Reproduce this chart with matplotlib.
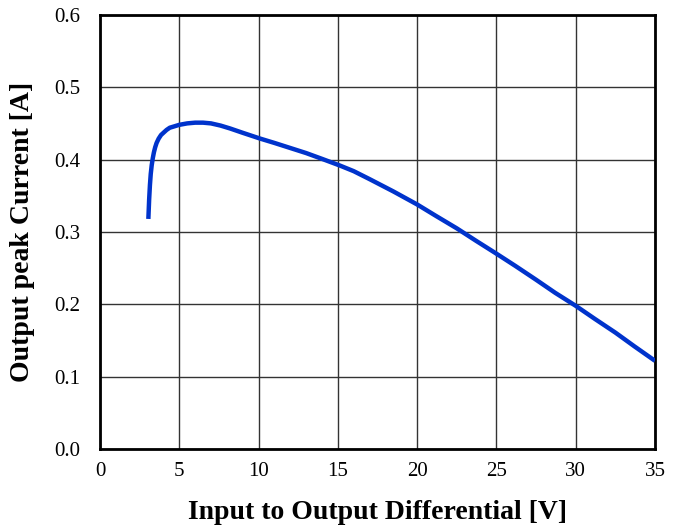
import matplotlib
matplotlib.use('Agg')
import matplotlib.pyplot as plt
import numpy as np

# ── data ──
vdiff = [3.05, 3.1, 3.15, 3.2, 3.26, 3.33, 3.4, 3.48, 3.57, 3.7, 3.85, 4.0,
         4.2, 4.4, 4.7, 5.0, 5.5, 6.0, 6.5, 7.0, 7.6, 8.2, 9.0, 10.1,
         11.0, 12.0, 13.0, 14.0, 15.1, 16.0, 17.0, 18.5, 20.0, 21.2,
         22.5, 23.7, 25.0, 26.2, 27.5, 28.7, 30.0, 31.2, 32.5, 33.7, 35.0]
ipeak = [0.318, 0.345, 0.365, 0.380, 0.392, 0.402, 0.410, 0.417, 0.423, 0.429,
         0.434, 0.437, 0.441, 0.444, 0.446, 0.448, 0.450, 0.451, 0.451, 0.450,
         0.447, 0.443, 0.437, 0.429, 0.423, 0.416, 0.409, 0.401, 0.392,
         0.384, 0.373, 0.356, 0.338, 0.322, 0.305, 0.288, 0.270, 0.253,
         0.234, 0.216, 0.198, 0.180, 0.161, 0.142, 0.122]

x_ticks = [0, 5, 10, 15, 20, 25, 30, 35]
y_ticks = [0.0, 0.1, 0.2, 0.3, 0.4, 0.5, 0.6]

plt.rcParams['font.family'] = ['Liberation Serif', 'DejaVu Serif']

fig = plt.figure(figsize=(6.83, 5.29), dpi=100)
ax = fig.add_axes([0.1464, 0.151, 0.8126, 0.821])

ax.plot(vdiff, ipeak, color='#0033cc', lw=3.2, solid_capstyle='butt',
        solid_joinstyle='round', zorder=3)

ax.set_xlim(0, 35)
ax.set_ylim(0, 0.6)
ax.set_xticks(x_ticks)
ax.set_yticks(y_ticks)
ax.set_yticklabels([f"{v:.1f}" for v in y_ticks])
ax.tick_params(length=0, labelsize=15)
ax.tick_params(axis='y', pad=14)
ax.tick_params(axis='x', pad=9)
ax.grid(True, color='#333333', lw=1.0)
for s in ax.spines.values():
    s.set_linewidth(2.0)
    s.set_color('black')

ax.set_xlabel("Input to Output Differential [V]", fontsize=20, fontweight='bold', labelpad=14)
ax.set_ylabel("Output peak Current [A]", fontsize=20, fontweight='bold', labelpad=14)

fig.savefig('out.png', dpi=100)
